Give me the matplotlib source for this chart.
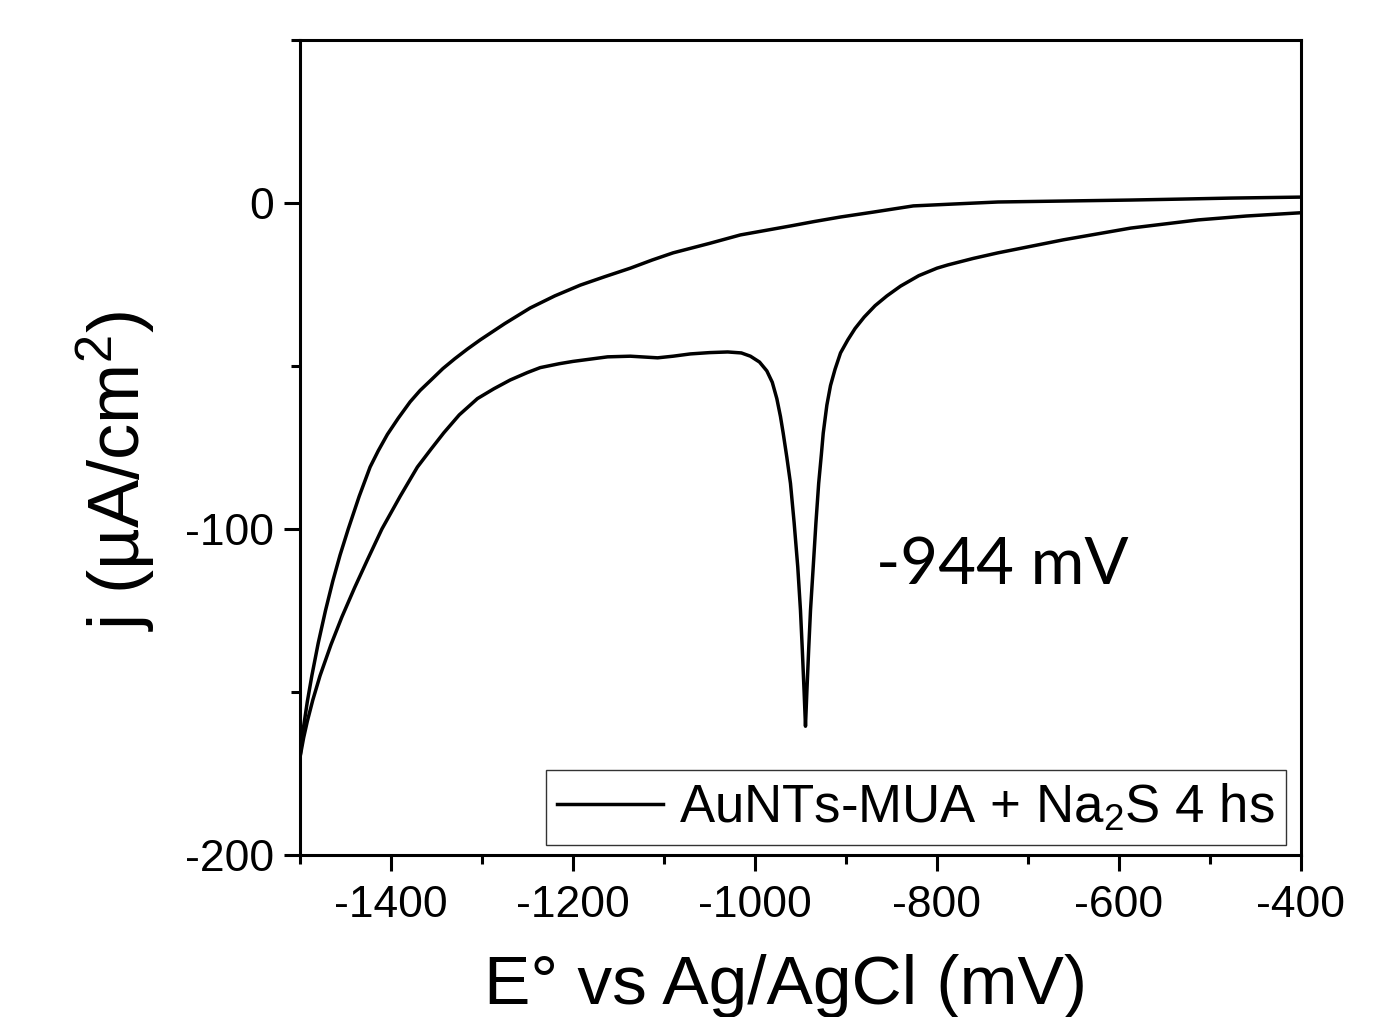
import matplotlib
matplotlib.use("Agg")
import matplotlib.pyplot as plt
from matplotlib.ticker import MultipleLocator

plt.rcParams['font.family'] = ['Liberation Sans', 'DejaVu Sans']
plt.rcParams['mathtext.fontset'] = 'custom'
plt.rcParams['mathtext.rm'] = 'Liberation Sans'
plt.rcParams['mathtext.it'] = 'Liberation Sans'
plt.rcParams['axes.unicode_minus'] = False

# upper branch, values
e_upper = [-1500, -1496, -1492, -1487, -1480, -1472, -1464, -1456, -1447,
           -1435, -1423, -1414, -1404, -1392, -1379, -1368, -1356, -1343, -1330,
           -1316, -1302, -1275, -1247, -1220, -1192, -1165, -1137, -1113, -1090,
           -1050, -1016, -990, -960, -935, -906, -870, -826, -780, -733,
           -660, -587, -530, -477, -400]
j_upper = [-170, -160.5, -153, -145, -135, -125, -116, -108, -100,
           -90, -81, -76, -71, -66, -61, -57.5, -54.3, -50.8, -47.8,
           -44.8, -42, -37, -32.2, -28.5, -25.2, -22.6, -20, -17.5, -15.3,
           -12.4, -9.8, -8.5, -7, -5.7, -4.3, -2.8, -0.9, -0.3, 0.3,
           0.6, 0.9, 1.2, 1.5, 1.8]

# lower branch with the desorption peak
e_lower = [-400, -460, -513, -587, -661, -733, -760, -788, -800, -820,
           -840, -855, -868, -880, -890, -898, -906, -912, -917, -921,
           -925, -927, -930, -933, -936, -939, -941, -943, -944.5, -946,
           -948, -950, -953, -957, -961, -965, -969, -972, -976, -981,
           -987, -995, -1005, -1015, -1030, -1050, -1071, -1090, -1107, -1137,
           -1162, -1200, -1215, -1236, -1250, -1269, -1287, -1305, -1325, -1342,
           -1356, -1371, -1390, -1410, -1426, -1440, -1454, -1466, -1478, -1486,
           -1492, -1496, -1500]
j_lower = [-3, -4, -5.2, -7.7, -11.3, -15.3, -17, -19, -20, -22.3,
           -25.5, -28.5, -31.5, -35, -38.5, -42, -46, -51, -56, -62,
           -70.6, -77, -86, -98, -111.6, -125, -137, -150, -160.5, -150,
           -137, -125, -111.6, -98, -86, -78, -70.6, -65.5, -60, -55,
           -51.5, -48.8, -47, -46, -45.7, -45.9, -46.3, -47, -47.5, -47,
           -47.2, -48.6, -49.3, -50.5, -52, -54.3, -57, -60, -65, -70.5,
           -75.5, -81, -90, -100, -109.5, -118, -127, -135.5, -145, -152.5,
           -159, -164, -170]

fig = plt.figure(figsize=(13.89, 10.17), dpi=100)
ax = fig.add_axes([0.216, 0.1593, 0.7206, 0.8014])

ax.plot(e_upper, j_upper, color='black', lw=2.5, solid_joinstyle='round')
ax.plot(e_lower, j_lower, color='black', lw=2.5, solid_joinstyle='round',
        label=r'AuNTs-MUA + Na$_2$S 4 hs')

ax.set_xlim(-1500, -400)
ax.set_ylim(-200, 50)
ax.xaxis.set_major_locator(MultipleLocator(200))
ax.xaxis.set_minor_locator(MultipleLocator(100))
ax.set_yticks([-200, -100, 0])
ax.yaxis.set_minor_locator(MultipleLocator(50))

for s in ax.spines.values():
    s.set_linewidth(2.2)
ax.tick_params(which='both', direction='out', width=2.2, labelsize=32,
               top=False, right=False)
ax.tick_params(which='major', length=11.5)
ax.tick_params(which='minor', length=6.5)
ax.tick_params(axis='x', pad=10)
ax.tick_params(axis='y', pad=7)

ax.set_xlabel('E° vs Ag/AgCl (mV)', fontsize=50, labelpad=20)
ax.xaxis.label.set_x(0.4855)
ax.set_ylabel(r'j (µA/cm$^2$)', fontsize=52, labelpad=20)
ax.yaxis.label.set_y(0.472)

leg = ax.legend(loc='lower right', bbox_to_anchor=(0.985, 0.0123), borderaxespad=0,
                fontsize=38, frameon=True, fancybox=False, handlelength=2.0,
                handletextpad=0.3, borderpad=0.22)
leg.get_frame().set_edgecolor('black')
leg.get_frame().set_linewidth(1.0)

ax.text(-867, -117, '-944 mV', family=['Lato', 'DejaVu Sans'], fontsize=47,
        ha='left', va='baseline')

fig.savefig('out.png', dpi=100)
